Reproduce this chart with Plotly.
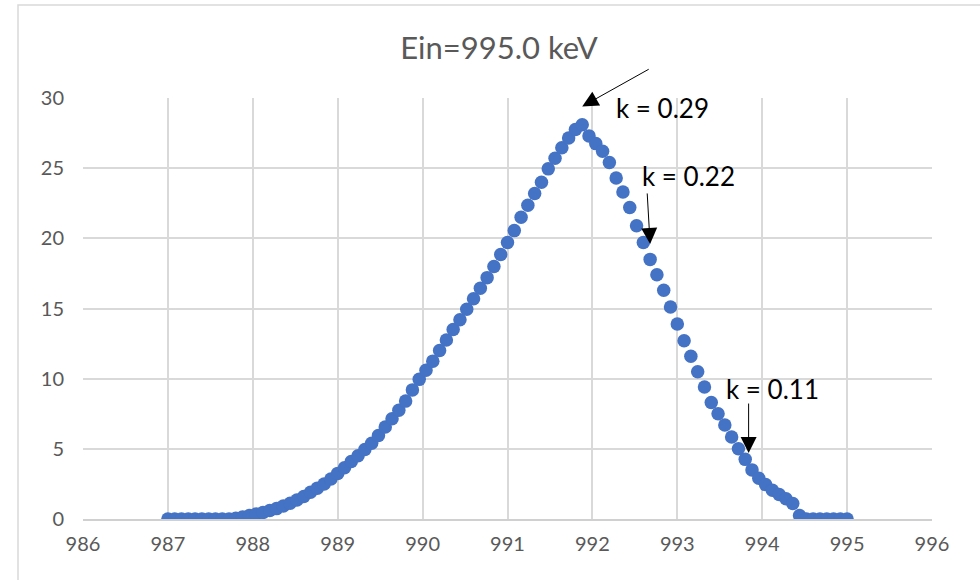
import plotly.graph_objects as go

energy_kev = [
    987.00, 987.08, 987.16, 987.24, 987.32, 987.40, 987.48, 987.56, 987.64, 987.72,
    987.80, 987.88, 987.96, 988.04, 988.12, 988.20, 988.28, 988.36, 988.44, 988.52,
    988.60, 988.68, 988.76, 988.84, 988.92, 989.00, 989.08, 989.16, 989.24, 989.32,
    989.40, 989.48, 989.56, 989.64, 989.72, 989.80, 989.88, 989.96, 990.04, 990.12,
    990.20, 990.28, 990.36, 990.44, 990.52, 990.60, 990.68, 990.76, 990.84, 990.92,
    991.00, 991.08, 991.16, 991.24, 991.32, 991.40, 991.48, 991.56, 991.64, 991.72,
    991.80, 991.88, 991.96, 992.04, 992.12, 992.20, 992.28, 992.36, 992.44, 992.52,
    992.60, 992.68, 992.76, 992.84, 992.92, 993.00, 993.08, 993.16, 993.24, 993.32,
    993.40, 993.48, 993.56, 993.64, 993.72, 993.80, 993.88, 993.96, 994.04, 994.12,
    994.20, 994.28, 994.36, 994.44, 994.52, 994.60, 994.68, 994.76, 994.84, 994.92,
    995.00,
]
counts = [
    0, 0, 0, 0, 0, 0, 0, 0, 0, 0,
    0.05, 0.15, 0.25, 0.35, 0.47, 0.6, 0.74, 0.92, 1.12, 1.35,
    1.6, 1.9, 2.2, 2.5, 2.85, 3.25, 3.65, 4.1, 4.5, 4.95,
    5.4, 5.95, 6.55, 7.15, 7.75, 8.4, 9.2, 9.95, 10.6, 11.25,
    12.0, 12.75, 13.5, 14.2, 14.95, 15.7, 16.45, 17.2, 18.0, 18.85,
    19.7, 20.55, 21.5, 22.35, 23.2, 24.0, 24.95, 25.7, 26.45, 27.15,
    27.75, 28.1, 27.3, 26.75, 26.2, 25.4, 24.3, 23.3, 22.2, 20.9,
    19.7, 18.5, 17.4, 16.3, 15.1, 13.9, 12.7, 11.6, 10.5, 9.4,
    8.3, 7.5, 6.7, 5.85, 5.0, 4.25, 3.5, 2.9, 2.45, 2.05,
    1.75, 1.45, 1.1, 0.25, 0, 0, 0, 0, 0, 0,
    0,
]

x_ticks = [986, 987, 988, 989, 990, 991, 992, 993, 994, 995, 996]
y_ticks = [0, 5, 10, 15, 20, 25, 30]

title_text = "Ein=995.0 keV"
label_texts = ["k = 0.29", "k = 0.22", "k = 0.11"]
label_x = [992.25, 992.56, 993.55]
label_y = [29.3, 24.45, 9.27]
arrow_tip_x = [991.88, 992.68, 993.84]
arrow_tip_y = [29.4, 19.6, 4.7]
arrow_dx = [68, -3, 0]
arrow_dy = [-38, -52, -51]

fig = go.Figure()
fig.add_trace(go.Scatter(
    x=energy_kev, y=counts, mode="markers",
    marker=dict(color="#4472C4", size=13.5, line=dict(width=0)),
    showlegend=False,
))

annotations = []
for t, lx, ly in zip(label_texts, label_x, label_y):
    annotations.append(dict(x=lx, y=ly, xref="x", yref="y", text=t, showarrow=False,
                            xanchor="left", yanchor="middle",
                            font=dict(family="Lato", size=26, color="#000000")))
for tx, ty, dx, dy in zip(arrow_tip_x, arrow_tip_y, arrow_dx, arrow_dy):
    annotations.append(dict(x=tx, y=ty, xref="x", yref="y", text="", showarrow=True,
                            ax=dx, ay=dy, arrowhead=2, arrowsize=3.2, arrowwidth=1,
                            arrowcolor="#000000", standoff=0))

fig.update_layout(
    width=980, height=580,
    margin=dict(l=83, r=48, t=98, b=61),
    paper_bgcolor="white", plot_bgcolor="white",
    title=dict(text=title_text, x=499 / 980, xanchor="center",
               y=1 - 48 / 580, yanchor="middle",
               font=dict(family="Lato", size=31, color="#595959")),
    xaxis=dict(range=[986, 996], tickvals=x_ticks, showgrid=True, gridcolor="#d9d9d9",
               gridwidth=1.5, zeroline=False, showline=True, linecolor="#d0d0d0", linewidth=1.5,
               ticks="", ticklabelstandoff=6,
               tickfont=dict(family="Lato", size=20, color="#595959")),
    yaxis=dict(range=[0, 30], tickvals=y_ticks, showgrid=True, gridcolor="#d9d9d9",
               gridwidth=1.5, zeroline=False, showline=False, ticks="",
               ticklabelstandoff=18,
               tickfont=dict(family="Lato", size=20, color="#595959")),
    annotations=annotations,
    shapes=[dict(type="rect", xref="paper", yref="paper",
                 x0=(18 - 83) / 849, x1=(990 - 83) / 849,
                 y0=(519 - 600) / 421, y1=(519 - 5) / 421,
                 line=dict(color="#d9d9d9", width=1.5), fillcolor="rgba(0,0,0,0)", layer="below")],
)

fig.write_html("out.html")
